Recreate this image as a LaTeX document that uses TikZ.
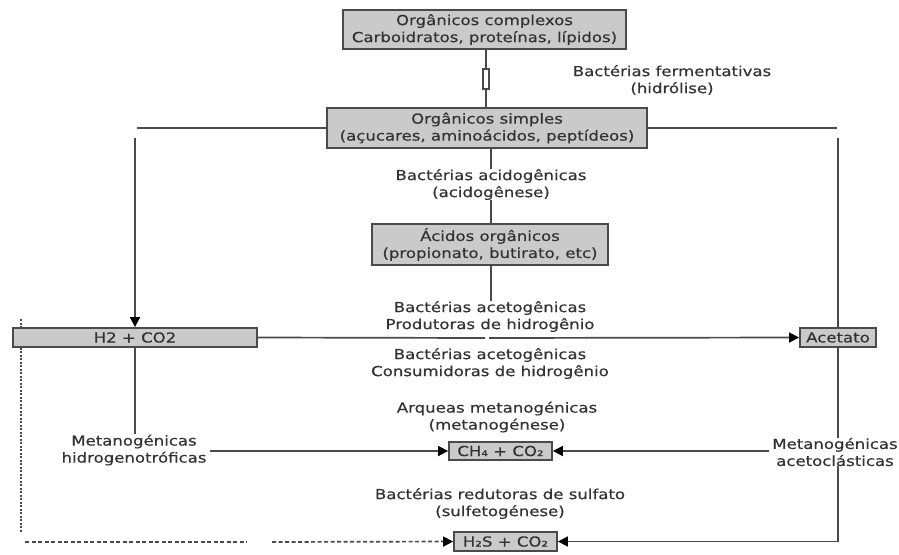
\documentclass[tikz,border=0pt]{standalone}
\usepackage{fontspec}
\setmainfont{DejaVu Sans}[FakeStretch=1.2,FakeBold=0.5]
\usetikzlibrary{arrows.meta}
\definecolor{ink}{HTML}{333333}
\definecolor{wirecol}{HTML}{4A4A4A}
\definecolor{boxfill}{HTML}{CACACA}
\begin{document}
\begin{tikzpicture}[x=1pt,y=-1pt,
  every node/.style={font=\fontsize{13.8}{17}\selectfont, text=ink, inner sep=0pt},
  stage/.style={draw=wirecol, line width=1.8pt, fill=boxfill, align=center},
  note/.style={align=center},
  wire/.style={draw=wirecol, line width=1.7pt},
  flow/.style={wire, -{Triangle[length=10pt,width=10pt,color=black]}},
  dashwire/.style={wire, dash pattern=on 4pt off 2.5pt},
  dotwire/.style={wire, dash pattern=on 2pt off 1.5pt},
  dashflow/.style={dashwire, -{Triangle[length=10pt,width=10pt,color=black]}}
]
\useasboundingbox (0,0) rectangle (899,554);

% substrate and product boxes
\node[stage, minimum width=283pt, minimum height=39pt] (cplx) at (484.5,29.5)
  {Orgânicos complexos\\Carboidratos, proteínas, lípidos)};
\node[stage, minimum width=320pt, minimum height=40pt] (simp) at (487,128)
  {Orgânicos simples\\(açucares, aminoácidos, peptídeos)};
\node[stage, minimum width=236pt, minimum height=41pt] (acid) at (490,244.5)
  {Ácidos orgânicos\\(propionato, butirato, etc)};
\node[stage, minimum width=244pt, minimum height=19pt] (h2) at (135,337.5) {H2 + CO2};
\node[stage, minimum width=76pt, minimum height=19pt] (acet) at (838,337.5) {Acetato};
\node[stage, minimum width=103pt, minimum height=18pt] (ch4) at (500.5,451) {CH₄ + CO₂};
\node[stage, minimum width=103pt, minimum height=19pt] (h2s) at (505.5,541.5) {H₂S + CO₂};

% process labels
\node[note] (ferm) at (672,80) {Bactérias fermentativas\\(hidrólise)};
\node[note] (acido) at (491,184.5) {Bactérias acidogênicas\\(acidogênese)};
\node[note] (prod) at (490,316.5) {Bactérias acetogênicas\\Produtoras de hidrogênio};
\node[note] (cons) at (490,363.5) {Bactérias acetogênicas\\Consumidoras de hidrogênio};
\node[note] (arq) at (497,417) {Arqueas metanogénicas\\(metanogénese)};
\node[note] (sulf) at (500,503.5) {Bactérias redutoras de sulfato\\(sulfetogénese)};
\node[note] (hydro) at (134,450) {Metanogénicas\\hidrogenotróficas};
\node[note] (aceto) at (835,452) {Metanogénicas\\acetoclásticas};

% corner points of the two side branches
\coordinate (lcorner) at (137,128);
\coordinate (ltop) at (135,138);
\coordinate (rcorner) at (837,128);
\coordinate (rtop) at (838,138);
\coordinate (brk) at (487,338);
\coordinate (dtop) at (21,319);
\coordinate (dbot) at (21,532);
\coordinate (dl) at (25,542);
\coordinate (dm1) at (247,542);
\coordinate (dm2) at (272,542);

% hydrolysis with its marker
\draw[wire] (486,49) -- (486,108);
\node[draw=wirecol, line width=1.1pt, fill=white, minimum width=6pt, minimum height=20pt] (valve) at (486,79) {};

% main column
\draw[wire] (simp.south -| acido) -- (acido.north);
\draw[wire] (acido.south) -- (acido.south |- acid.north);
\draw[wire] (acid.south -| acido) -- (prod.north -| acido);

% side branches from the simple organics
\draw[wire] (simp.west) -- (lcorner);
\draw[flow] (ltop) -- (ltop |- h2.north);
\draw[wire] (simp.east) -- (rcorner);
\draw[wire] (rtop) -- (acet.north);

% hydrogen to acetate
\draw[wire] (h2.east) -- ([xshift=-2pt]brk);
\draw[flow] ([xshift=2pt]brk) -- (acet.west);

% methanogenesis
\draw[wire] (h2.south) -- (h2.south |- hydro.north);
\draw[flow] ([xshift=3pt]hydro.east |- ch4) -- (ch4.west);
\draw[wire] (acet.south) -- (acet.south |- aceto.north);
\draw[flow] ([xshift=-3pt]aceto.west |- ch4) -- (ch4.east);

% sulfate reduction
\draw[flow] (acet.south |- aceto.south) -- (acet.south |- h2s) -- (h2s.east);
\draw[dotwire] (dtop) -- (dtop |- h2.north);
\draw[dotwire] (dtop |- h2.south) -- (dbot);
\draw[dashwire] (dl) -- (dm1);
\draw[dashflow] (dm2) -- (h2s.west);
\end{tikzpicture}
\end{document}
